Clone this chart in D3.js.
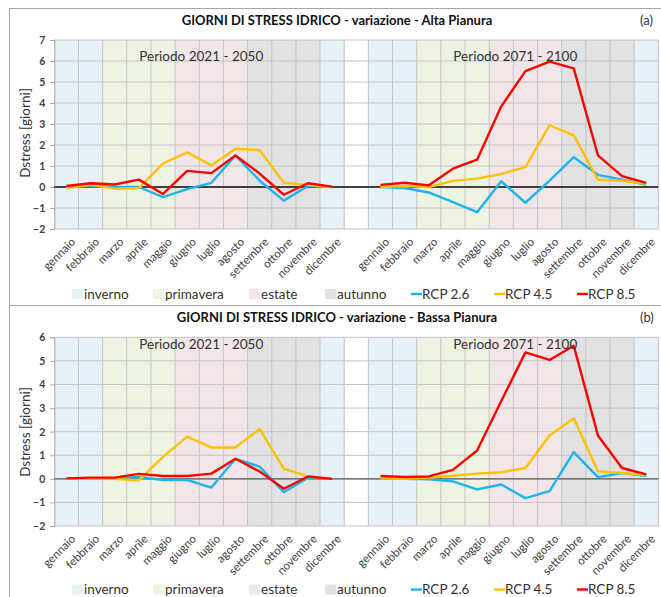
<!DOCTYPE html>
<html>
<head>
<meta charset="utf-8">
<script src="https://cdn.jsdelivr.net/npm/d3@7"></script>
<style>
  body { margin: 0; background: #fff; }
  svg { display: block; font-family: Lato, "Open Sans", sans-serif; }
</style>
</head>
<body>
<script>
// months and seasons
const months = ["gennaio", "febbraio", "marzo", "aprile", "maggio", "giugno",
  "luglio", "agosto", "settembre", "ottobre", "novembre", "dicembre"];
const seasonOfMonth = ["inverno", "inverno", "primavera", "primavera", "primavera", "estate",
  "estate", "estate", "autunno", "autunno", "autunno", "inverno"];
const seasons = ["inverno", "primavera", "estate", "autunno"];
const scenarios = ["RCP 2.6", "RCP 4.5", "RCP 8.5"];

// Alta Pianura, 2021-2050
const alta1Rcp26 = [0, 0.05, 0, 0, -0.48, -0.1, 0.2, 1.5, 0.3, -0.65, 0.05, 0];
const alta1Rcp45 = [-0.05, 0.1, -0.08, -0.05, 1.12, 1.65, 1.03, 1.82, 1.75, 0.2, 0.1, 0];
const alta1Rcp85 = [0.05, 0.18, 0.12, 0.35, -0.33, 0.77, 0.66, 1.5, 0.64, -0.37, 0.18, 0.02];
// Alta Pianura, 2071-2100
const alta2Rcp26 = [0, -0.05, -0.26, -0.72, -1.2, 0.27, -0.75, 0.3, 1.42, 0.58, 0.35, 0.1];
const alta2Rcp45 = [0, 0.05, 0, 0.29, 0.4, 0.62, 0.95, 2.94, 2.46, 0.35, 0.3, 0.15];
const alta2Rcp85 = [0.1, 0.2, 0.08, 0.87, 1.3, 3.84, 5.52, 5.97, 5.65, 1.51, 0.52, 0.2];
// Bassa Pianura, 2021-2050
const bassa1Rcp26 = [0, 0.02, 0.02, 0.08, -0.05, -0.05, -0.37, 0.85, 0.52, -0.57, 0.05, 0];
const bassa1Rcp45 = [0, 0.02, 0, -0.07, 0.93, 1.79, 1.33, 1.33, 2.11, 0.43, 0.1, 0];
const bassa1Rcp85 = [0.02, 0.05, 0.05, 0.21, 0.12, 0.12, 0.22, 0.85, 0.31, -0.42, 0.1, 0];
// Bassa Pianura, 2071-2100
const bassa2Rcp26 = [0.02, 0, -0.02, -0.11, -0.45, -0.24, -0.82, -0.52, 1.13, 0.07, 0.24, 0.12];
const bassa2Rcp45 = [0.02, 0, 0.05, 0.13, 0.22, 0.28, 0.46, 1.84, 2.57, 0.32, 0.25, 0.15];
const bassa2Rcp85 = [0.12, 0.08, 0.1, 0.38, 1.2, 3.3, 5.36, 5.04, 5.64, 1.84, 0.46, 0.19];

const yTicksAlta = [-2, -1, 0, 1, 2, 3, 4, 5, 6, 7];
const yTicksBassa = [-2, -1, 0, 1, 2, 3, 4, 5, 6];

const seasonColor = { inverno: "#e6f1f8", primavera: "#eef3e4", estate: "#f3e6e8", autunno: "#e2e2e2" };
const lineColor = { "RCP 2.6": "#1cb4ec", "RCP 4.5": "#ffc000", "RCP 8.5": "#ff0000" };

const W = 661, H = 597;
const svg = d3.select("body").append("svg").attr("width", W).attr("height", H);

// 12 months, a blank slot, 12 months
const slots = [
  ...months.map((m, i) => ({ key: "a" + i, month: i })),
  { key: "gap", month: null },
  ...months.map((m, i) => ({ key: "b" + i, month: i })),
];
const x = d3.scaleBand().domain(slots.map((d) => d.key)).range([54.3, 658.3]).padding(0);

const drawPanel = (p) => {
  const g = svg.append("g").attr("transform", `translate(0,${p.top})`);
  const y = d3.scaleLinear().domain(d3.extent(p.ticks)).range([p.bottom, p.yTop]);

  g.append("rect").attr("x", 9.5).attr("y", 0.5).attr("width", 700).attr("height", p.height)
    .attr("fill", "#fff").attr("stroke", "#a6a6a6");

  // season bands
  g.append("g").selectAll("rect")
    .data(slots.filter((d) => d.month !== null))
    .join("rect")
    .attr("x", (d) => x(d.key)).attr("width", x.bandwidth())
    .attr("y", y.range()[1]).attr("height", y.range()[0] - y.range()[1])
    .attr("fill", (d) => seasonColor[seasonOfMonth[d.month]]);

  // grid
  g.append("g").selectAll("line").data(p.ticks).join("line")
    .attr("x1", x.range()[0]).attr("x2", x.range()[1])
    .attr("y1", (d) => y(d)).attr("y2", (d) => y(d))
    .attr("stroke", "#c3c3c3").attr("stroke-width", 1);
  g.append("g").selectAll("line").data(slots.slice(1).map((d) => x(d.key)).concat([x.range()[1]])).join("line")
    .attr("x1", (d) => d).attr("x2", (d) => d)
    .attr("y1", y.range()[0]).attr("y2", y.range()[1])
    .attr("stroke", "#c3c3c3").attr("stroke-width", 1);

  // y axis
  const yAxis = g.append("g").attr("transform", `translate(${x.range()[0]},0)`)
    .call(d3.axisLeft(y).tickValues(p.ticks).tickSize(4).tickPadding(5));
  yAxis.select(".domain").attr("stroke", "#a6a6a6");
  yAxis.selectAll(".tick line").attr("stroke", "#a6a6a6");
  yAxis.selectAll("text").attr("font-size", 10.5).attr("font-weight", "bold").attr("fill", "#404040")
    .attr("font-family", "Lato, sans-serif");

  // zero line
  g.append("line").attr("x1", x.range()[0]).attr("x2", x.range()[1])
    .attr("y1", y(0)).attr("y2", y(0))
    .attr("stroke", p.zeroColor).attr("stroke-width", p.zeroWidth);

  // x labels
  g.append("g").selectAll("text")
    .data(slots.filter((d) => d.month !== null))
    .join("text")
    .attr("transform", (d) => `translate(${x(d.key) + x.bandwidth() / 2 + 4},${y.range()[0] + 8}) rotate(-45)`)
    .attr("text-anchor", "end").attr("dy", "0.7em")
    .attr("font-size", 11.5).attr("fill", "#404040")
    .text((d) => months[d.month]);

  // lines
  const line = d3.line().x((d) => x(d.key) + x.bandwidth() / 2).y((d) => y(d.v));
  p.series.forEach((s) => {
    [["a", s.first], ["b", s.second]].forEach(([pre, vals]) => {
      g.append("path")
        .datum(vals.map((v, i) => ({ key: pre + i, v })))
        .attr("d", line).attr("fill", "none")
        .attr("stroke", lineColor[s.name]).attr("stroke-width", 2.4)
        .attr("stroke-linejoin", "round");
    });
  });

  // period labels
  [["a", "Periodo 2021 - 2050"], ["b", "Periodo 2071 - 2100"]].forEach(([pre, t]) => {
    g.append("text")
      .attr("x", (x(pre + "0") + x(pre + "11") + x.bandwidth()) / 2 + 2)
      .attr("y", p.periodY).attr("text-anchor", "middle")
      .attr("font-size", 13.5).attr("fill", "#333").text(t);
  });

  // title and letter
  g.append("text").attr("x", 337).attr("y", p.titleY).attr("text-anchor", "middle")
    .attr("font-size", 13).attr("font-weight", "bold").attr("fill", "#111").text(p.title);
  g.append("text").attr("x", 640).attr("y", p.titleY).attr("font-size", 13).attr("fill", "#333").text(p.letter);

  // y title
  g.append("text")
    .attr("transform", `translate(30,${p.yTitleY}) rotate(-90)`)
    .attr("text-anchor", "middle").attr("font-size", 13.5).attr("fill", "#333")
    .text("Dstress [giorni]");

  // legend
  const leg = g.append("g").attr("transform", `translate(0,${p.legendY})`);
  const seasonX = [72, 153, 249, 325];
  seasons.forEach((s, i) => {
    leg.append("rect").attr("x", seasonX[i]).attr("y", -5).attr("width", 11).attr("height", 10)
      .attr("fill", seasonColor[s]);
    leg.append("text").attr("x", seasonX[i] + 12).attr("y", 4.5).attr("font-size", 13.5)
      .attr("fill", "#333").text(s);
  });
  const lineX = [411, 494, 577];
  scenarios.forEach((s, i) => {
    leg.append("line").attr("x1", lineX[i]).attr("x2", lineX[i] + 11).attr("y1", 0).attr("y2", 0)
      .attr("stroke", lineColor[s]).attr("stroke-width", 2.4);
    leg.append("text").attr("x", lineX[i] + 11).attr("y", 4.5).attr("font-size", 13.5)
      .attr("fill", "#333").text(s);
  });
};

drawPanel({
  top: 8, height: 297, yTop: 32, bottom: 221, ticks: yTicksAlta,
  zeroColor: "#404040", zeroWidth: 2.2,
  title: "GIORNI DI STRESS IDRICO - variazione - Alta Pianura", letter: "(a)",
  titleY: 17, periodY: 53, yTitleY: 125, legendY: 286,
  series: [
    { name: "RCP 2.6", first: alta1Rcp26, second: alta2Rcp26 },
    { name: "RCP 4.5", first: alta1Rcp45, second: alta2Rcp45 },
    { name: "RCP 8.5", first: alta1Rcp85, second: alta2Rcp85 },
  ],
});

drawPanel({
  top: 305, height: 320, yTop: 32.3, bottom: 221, ticks: yTicksBassa,
  zeroColor: "#595959", zeroWidth: 1.2,
  title: "GIORNI DI STRESS IDRICO - variazione - Bassa Pianura", letter: "(b)",
  titleY: 17, periodY: 44, yTitleY: 127, legendY: 284.5,
  series: [
    { name: "RCP 2.6", first: bassa1Rcp26, second: bassa2Rcp26 },
    { name: "RCP 4.5", first: bassa1Rcp45, second: bassa2Rcp45 },
    { name: "RCP 8.5", first: bassa1Rcp85, second: bassa2Rcp85 },
  ],
});
</script>
</body>
</html>
